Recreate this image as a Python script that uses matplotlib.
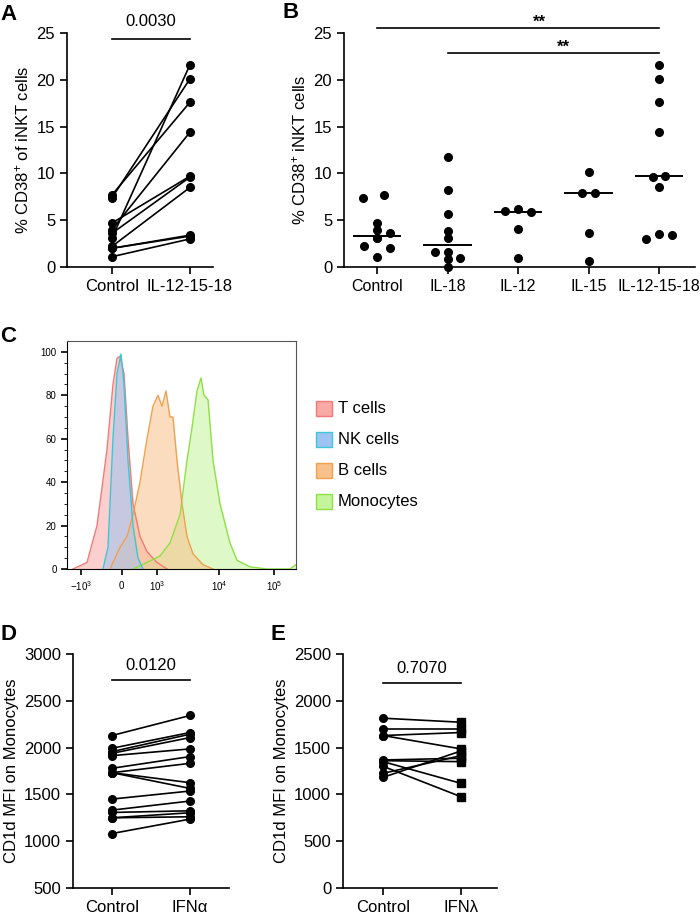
import matplotlib
matplotlib.use("Agg")
import matplotlib.pyplot as plt
from matplotlib.patches import Rectangle
import numpy as np

plt.rcParams['font.family'] = ['Liberation Sans', 'DejaVu Sans']
plt.rcParams['mathtext.fontset'] = 'custom'
plt.rcParams['mathtext.rm'] = 'Liberation Sans'
plt.rcParams['mathtext.it'] = 'Liberation Sans'

# Panel A
a_cats = ["Control", "IL-12-15-18"]
a_ctrl = [7.7, 7.4, 4.7, 4.0, 3.6, 3.1, 2.2, 2.0, 2.0, 1.1]
a_il = [17.6, 20.1, 9.7, 14.4, 9.6, 21.6, 8.5, 3.4, 3.3, 3.0]
a_p = "0.0030"

# Panel B
b_cats = ["Control", "IL-18", "IL-12", "IL-15", "IL-12-15-18"]
b_vals = [
    [7.4, 7.7, 4.7, 4.0, 3.6, 3.1, 2.2, 2.0, 1.1, 3.1],
    [11.8, 8.2, 5.7, 3.8, 3.1, 1.6, 1.6, 0.9, 1.0, 0.0],
    [6.0, 6.2, 5.9, 4.1, 1.0],
    [10.1, 7.9, 7.9, 3.6, 0.6],
    [21.6, 20.1, 17.6, 14.4, 9.6, 9.7, 8.5, 3.0, 3.5, 3.4],
]
b_medians = [3.35, 2.4, 5.9, 7.9, 9.7]
b_jitter = [
    [-0.2, 0.1, 0.0, 0.0, 0.18, 0.0, -0.18, 0.18, 0.0, 0.0],
    [0.0, 0.0, 0.0, 0.0, 0.0, -0.18, 0.0, 0.0, 0.18, 0.0],
    [-0.18, 0.0, 0.18, 0.0, 0.0],
    [0.0, -0.09, 0.09, 0.0, 0.0],
    [0.0, 0.0, 0.0, 0.0, -0.09, 0.09, 0.0, -0.18, 0.0, 0.18],
]

# Panel C histogram outlines (display x units, % of max)
t_x = [6, 20, 30, 40, 46, 50, 53, 57, 61, 66, 73, 80, 90, 100]
t_y = [0, 3, 20, 55, 85, 97, 98, 90, 60, 30, 15, 8, 3, 0]
nk_x = [36, 41, 46, 50, 54, 57, 61, 66, 71, 76]
nk_y = [0, 10, 60, 90, 99, 85, 50, 20, 5, 0]
bc_x = [43, 53, 60, 66, 73, 80, 86, 91, 95, 99, 103, 106, 110, 115, 120, 126, 136, 146]
bc_y = [0, 10, 15, 25, 40, 60, 75, 80, 75, 82, 70, 70, 50, 30, 15, 7, 2, 0]
mo_x = [66, 80, 93, 103, 113, 120, 125, 130, 134, 137, 141, 146, 153, 163, 170, 183, 200, 223, 229]
mo_y = [0, 3, 6, 12, 25, 50, 65, 82, 88, 80, 78, 50, 30, 12, 4, 1, 0, 0, 2]
c_tick_pos = [14, 55, 90, 152, 207]
c_tick_lab = ["$-10^3$", "$0$", "$10^3$", "$10^4$", "$10^5$"]
c_names = ["T cells", "NK cells", "B cells", "Monocytes"]
c_fill = ["#f9a9a6", "#9cc3f2", "#f9c08a", "#c4f59a"]
c_edge = ["#f07a78", "#3cc7d4", "#f0a050", "#8ee044"]

# Panel D
d_cats = ["Control", "IFN\u03b1"]
d_ctrl = [2129, 1993, 1957, 1939, 1914, 1779, 1732, 1732, 1732, 1450, 1332, 1307, 1250, 1250, 1082]
d_ifn = [2343, 2161, 2143, 2107, 1986, 1904, 1832, 1564, 1625, 1536, 1429, 1325, 1304, 1261, 1236]
d_p = "0.0120"

# Panel E
e_cats = ["Control", "IFN\u03bb"]
e_ctrl = [1814, 1700, 1629, 1629, 1368, 1360, 1350, 1300, 1225, 1182]
e_ifn = [1771, 1700, 1486, 1661, 1386, 1350, 1118, 975, 1414, 1464]
e_p = "0.7070"

W, H = 700, 916
fig = plt.figure(figsize=(7, 9.16), dpi=100)

def ax_px(l, t, r, b):
    return fig.add_axes([l / W, 1 - b / H, (r - l) / W, (b - t) / H])

def style(ax):
    for s in ["top", "right"]:
        ax.spines[s].set_visible(False)
    for s in ["left", "bottom"]:
        ax.spines[s].set_linewidth(1.2)
    ax.tick_params(labelsize=12, width=1.2, length=5)

def letter(x, y, s):
    fig.text(x / W, 1 - y / H, s, fontsize=16, fontweight="bold", va="top", ha="left")

# A
ax = ax_px(67, 33, 213, 267)
style(ax)
for c, v in zip(a_ctrl, a_il):
    ax.plot([0, 1], [c, v], color="black", lw=1.2, marker="o", ms=5.5)
ax.set_xlim(-0.577, 1.296)
ax.set_ylim(0, 25)
ax.set_yticks([0, 5, 10, 15, 20, 25])
ax.set_xticks([0, 1])
ax.set_xticklabels(a_cats)
ax.set_ylabel("% CD38$^{+}$ of iNKT cells", fontsize=12)
ax.plot([0, 1], [24.4, 24.4], color="black", lw=1.2, clip_on=False)
ax.text(0.5, 25.4, a_p, ha="center", va="bottom", fontsize=12)
letter(0, 4, "A")

# B
ax = ax_px(344, 33, 695, 267)
style(ax)
for i, vals in enumerate(b_vals):
    xs = [i + j for j in b_jitter[i]]
    ax.plot(xs, vals, "o", color="black", ms=5.5, clip_on=False)
    ax.plot([i - 0.33, i + 0.33], [b_medians[i]] * 2, color="black", lw=1.4)
ax.set_xlim(-0.468, 4.51)
ax.set_ylim(0, 25)
ax.set_yticks([0, 5, 10, 15, 20, 25])
ax.set_xticks(range(5))
ax.set_xticklabels(b_cats)
ax.tick_params(axis="x", labelsize=11.5)
ax.set_ylabel("% CD38$^{+}$ iNKT cells", fontsize=12)
ax.plot([0, 4], [25.5, 25.5], color="black", lw=1.2, clip_on=False)
ax.text(2.3, 25.3, "**", ha="center", va="bottom", fontsize=12, fontweight="bold")
ax.plot([1, 4], [22.9, 22.9], color="black", lw=1.2, clip_on=False)
ax.text(2.65, 22.7, "**", ha="center", va="bottom", fontsize=12, fontweight="bold")
letter(283, 2, "B")

# C
ax = ax_px(67, 341, 296, 569)
for xs, ys, fc, ec in zip([t_x, mo_x, bc_x, nk_x], [t_y, mo_y, bc_y, nk_y],
                          [c_fill[0], c_fill[3], c_fill[2], c_fill[1]],
                          [c_edge[0], c_edge[3], c_edge[2], c_edge[1]]):
    ax.fill_between(xs, ys, color=fc, alpha=0.55, lw=0)
    ax.plot(xs, ys, color=ec, lw=1)
ax.set_xlim(0, 229)
ax.set_ylim(0, 105)
ax.set_yticks([0, 20, 40, 60, 80, 100])
ax.set_yticks(np.arange(0, 105, 5), minor=True)
ax.set_xticks(c_tick_pos)
ax.set_xticklabels(c_tick_lab)
ax.tick_params(labelsize=7, width=1.2, length=4)
ax.tick_params(which="minor", length=2)
for s in ax.spines.values():
    s.set_linewidth(0.8)
    s.set_color("#555555")
ax.spines["left"].set_color("black")
ax.spines["bottom"].set_color("black")
for i, (n, fc, ec) in enumerate(zip(c_names, c_fill, c_edge)):
    y = 401 + i * 31
    fig.patches.append(Rectangle((316 / W, 1 - (y + 15) / H), 16 / W, 15 / H,
                                 transform=fig.transFigure, fc=fc, ec=ec, lw=1))
    fig.text(338 / W, 1 - (y + 7.5) / H, n, fontsize=12, va="center")
letter(0, 326, "C")

# D
ax = ax_px(73, 654, 229, 888)
style(ax)
for c, v in zip(d_ctrl, d_ifn):
    ax.plot([0, 1], [c, v], color="black", lw=1.2, marker="o", ms=5.5)
ax.set_xlim(-0.5, 1.5)
ax.set_ylim(500, 3000)
ax.set_yticks(range(500, 3001, 500))
ax.set_xticks([0, 1])
ax.set_xticklabels(d_cats)
ax.set_ylabel("CD1d MFI on Monocytes", fontsize=12)
ax.plot([0, 1], [2722, 2722], color="black", lw=1.2)
ax.text(0.5, 2800, d_p, ha="center", va="bottom", fontsize=12)
letter(0, 624, "D")

# E
ax = ax_px(343, 654, 497, 888)
style(ax)
for c, v in zip(e_ctrl, e_ifn):
    ax.plot([0, 1], [c, v], color="black", lw=1.2)
    ax.plot([0], [c], "o", color="black", ms=5.5)
    ax.plot([1], [v], "s", color="black", ms=5.5)
ax.set_xlim(-0.514, 1.462)
ax.set_ylim(0, 2500)
ax.set_yticks(range(0, 2501, 500))
ax.set_xticks([0, 1])
ax.set_xticklabels(e_cats)
ax.set_ylabel("CD1d MFI on Monocytes", fontsize=12)
ax.plot([0, 1], [2190, 2190], color="black", lw=1.2)
ax.text(0.5, 2270, e_p, ha="center", va="bottom", fontsize=12)
letter(270, 624, "E")

fig.savefig("out.png", dpi=100)
